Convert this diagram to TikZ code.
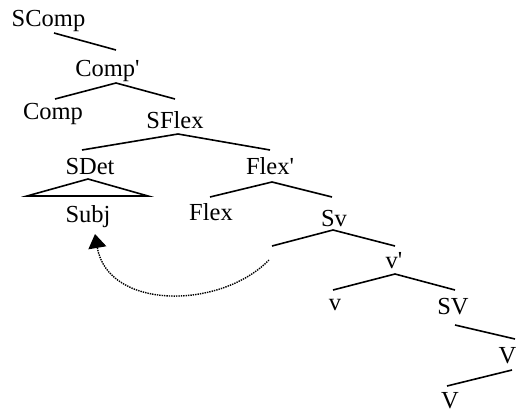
\documentclass[tikz,border=0pt]{standalone}
\usepackage{fontspec}
\newfontfamily\treefont{Liberation Serif}
\usetikzlibrary{arrows.meta}
\begin{document}
\begin{tikzpicture}[x=1pt,y=-1pt,
  lab/.style={anchor=base,inner sep=0pt,font=\treefont\fontsize{24.5}{29}\selectfont},
  branch/.style={line width=1.6pt},
  trace/.style={line width=1.4pt,densely dotted,-{Triangle[width=18pt,length=14pt]}}]
\useasboundingbox (0,0) rectangle (516,412);
% labels
\node[lab] (scomp) at (48.5,26.7) {SComp};
\node[lab] (compbar) at (107.5,76) {Comp'};
\node[lab] (comp) at (53,119) {Comp};
\node[lab] (sflex) at (175,128) {SFlex};
\node[lab] (sdet) at (90,174) {SDet};
\node[lab] (flexbar) at (270,174) {Flex'};
\node[lab] (subj) at (88,222.7) {Subj};
\node[lab] (flex) at (211,220) {Flex};
\node[lab] (sv) at (334,226.7) {Sv};
\node[lab] (vbar) at (394,268) {v'};
\node[lab] (vsmall) at (335,310) {v};
\node[lab] (svbig) at (453,314) {SV};
\node[lab] (vbig) at (507.5,363) {V};
\node[lab] (vlow) at (450,408) {V};
% branch points
\coordinate (a1) at (54,33);   \coordinate (a2) at (116,50);
\coordinate (b0) at (116,83);  \coordinate (b1) at (55,99);   \coordinate (b2) at (175,99);
\coordinate (c0) at (178,134); \coordinate (c1) at (82,150);  \coordinate (c2) at (270,150);
\coordinate (d0) at (88,179);  \coordinate (d1) at (27,196);  \coordinate (d2) at (148,196);
\coordinate (e0) at (272,182); \coordinate (e1) at (210,197); \coordinate (e2) at (332,197);
\coordinate (f0) at (333,230); \coordinate (f1) at (272,246); \coordinate (f2) at (395,246);
\coordinate (g0) at (395,274); \coordinate (g1) at (333,290); \coordinate (g2) at (455,290);
\coordinate (h1) at (455,325); \coordinate (h2) at (515,339);
\coordinate (i1) at (512,370); \coordinate (i2) at (447,386);
\coordinate (tstart) at (269,260); \coordinate (tend) at (95,234);
% branches
\draw[branch] (a1) -- (a2);
\draw[branch] (b1) -- (b0) -- (b2);
\draw[branch] (c1) -- (c0) -- (c2);
\draw[branch,line join=miter] (d0) -- (d1) -- (d2) -- cycle;
\draw[branch] (e1) -- (e0) -- (e2);
\draw[branch] (f1) -- (f0) -- (f2);
\draw[branch] (g1) -- (g0) -- (g2);
\draw[branch] (h1) -- (h2);
\draw[branch] (i1) -- (i2);
% movement
\draw[trace] (tstart) .. controls (220,310) and (108,310) .. (tend);
\end{tikzpicture}
\end{document}
